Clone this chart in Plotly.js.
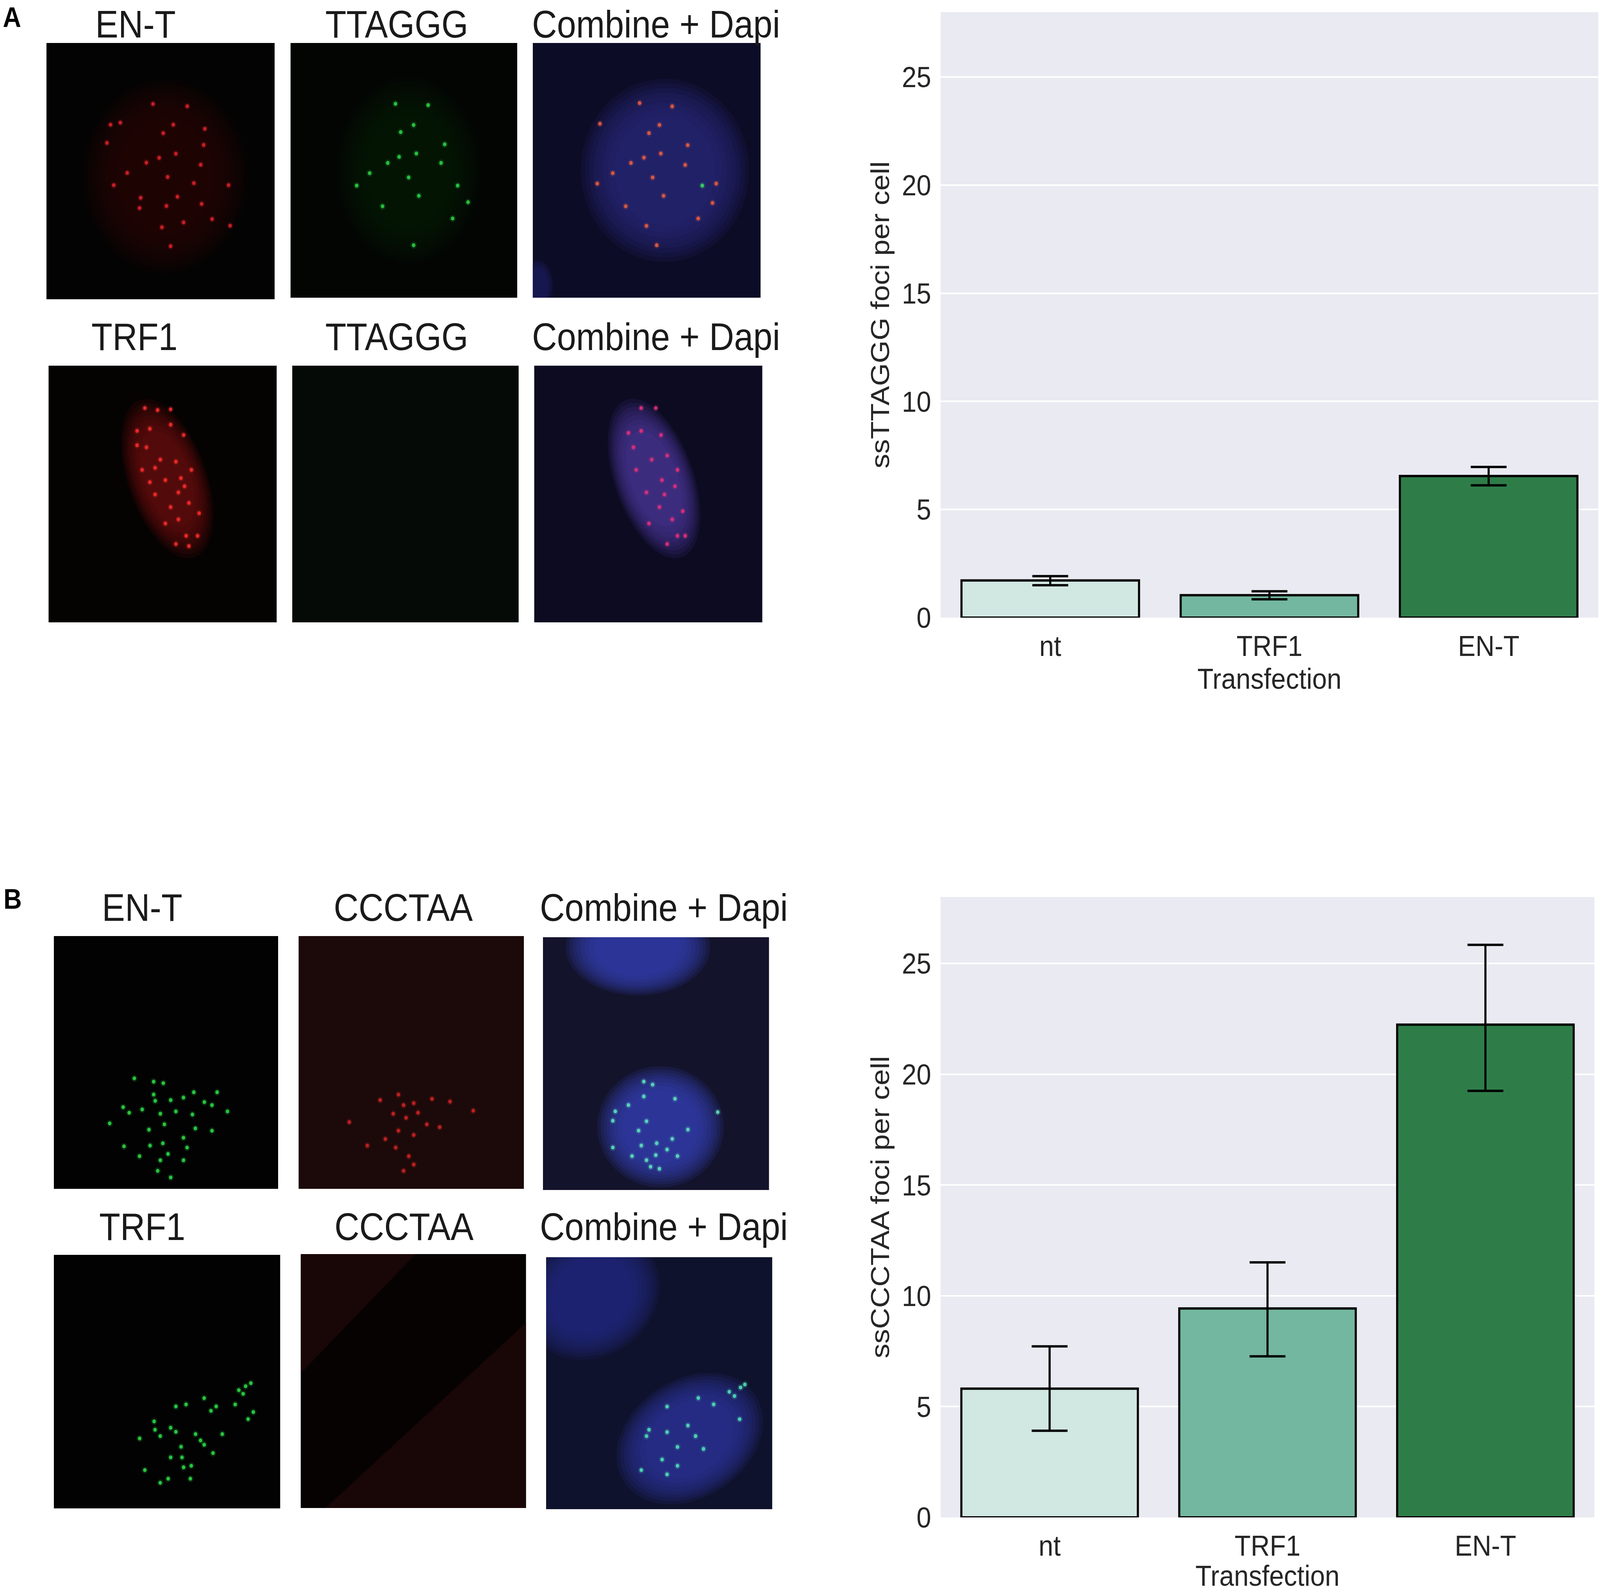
<!DOCTYPE html>
<html><head><meta charset="utf-8">
<script src="https://cdn.plot.ly/plotly-3.0.1.min.js"></script>
<style>
html,body{margin:0;padding:0;background:#fff;overflow:hidden}
#wrap{position:absolute;left:0;top:0;width:4550px;height:4075px;transform-origin:0 0}
</style>
</head><body><div id="wrap"><div id="chart" style="width:4550px;height:4075px"></div></div>
<script>
const W = 4550, H = 4075;
// fit the 4550x4075 figure into the actual viewport
(function () {
  const sx = Math.min(1, window.innerWidth / W), sy = Math.min(1, window.innerHeight / H);
  document.getElementById('wrap').style.transform = 'scale(' + sx + ',' + sy + ')';
})();

// ---------------- bar chart data ----------------
const categories = ['nt', 'TRF1', 'EN-T'];
const ssTTAGGG_mean = [1.72, 1.04, 6.55];
const ssTTAGGG_hi   = [1.92, 1.22, 6.97];
const ssTTAGGG_lo   = [1.50, 0.85, 6.12];
const ssCCCTAA_mean = [5.81, 9.43, 22.24];
const ssCCCTAA_hi   = [7.72, 11.51, 25.84];
const ssCCCTAA_lo   = [3.91, 7.27, 19.25];
const yTicks = [0, 5, 10, 15, 20, 25];
const barColors = ['#d1e7e2', '#73b7a0', '#2e7d49'];

// ---------------- panel titles ----------------
const titlesA1 = ['EN-T', 'TTAGGG', 'Combine + Dapi'];
const titlesA2 = ['TRF1', 'TTAGGG', 'Combine + Dapi'];
const titlesB1 = ['EN-T', 'CCCTAA', 'Combine + Dapi'];
const titlesB2 = ['TRF1', 'CCCTAA', 'Combine + Dapi'];

// ---------------- foci positions (fraction of panel, y from top) ----------------
const fociA_ENT = [[0.467,0.238],[0.617,0.247],[0.281,0.319],[0.324,0.311],[0.556,0.319],[0.512,0.352],[0.694,0.335],[0.265,0.390],[0.689,0.398],[0.567,0.432],[0.494,0.448],[0.438,0.467],[0.354,0.507],[0.531,0.523],[0.676,0.475],[0.646,0.547],[0.798,0.555],[0.295,0.555],[0.574,0.600],[0.413,0.604],[0.408,0.644],[0.526,0.636],[0.680,0.628],[0.726,0.687],[0.601,0.700],[0.805,0.713],[0.506,0.719],[0.544,0.793]];
const fociA_TTAGGG = [[0.463,0.239],[0.607,0.244],[0.543,0.322],[0.486,0.350],[0.680,0.398],[0.555,0.434],[0.479,0.447],[0.429,0.471],[0.664,0.471],[0.349,0.511],[0.521,0.528],[0.737,0.560],[0.566,0.600],[0.406,0.641],[0.783,0.625],[0.715,0.689],[0.543,0.794],[0.292,0.560]];
const fociA_comb = [[0.469,0.236],[0.612,0.249],[0.295,0.317],[0.556,0.322],[0.510,0.354],[0.680,0.401],[0.562,0.434],[0.488,0.450],[0.431,0.471],[0.351,0.511],[0.526,0.528],[0.669,0.479],[0.574,0.600],[0.408,0.641],[0.789,0.628],[0.726,0.689],[0.499,0.718],[0.544,0.794],[0.283,0.552],[0.805,0.552]];
const fociA_comb_green = [[0.744,0.560]];
const fociA_TRF1 = [[0.422,0.165],[0.478,0.173],[0.535,0.170],[0.388,0.254],[0.444,0.246],[0.535,0.230],[0.592,0.270],[0.388,0.310],[0.429,0.318],[0.490,0.366],[0.558,0.374],[0.626,0.406],[0.410,0.406],[0.467,0.398],[0.512,0.446],[0.580,0.438],[0.569,0.494],[0.467,0.502],[0.535,0.551],[0.615,0.535],[0.660,0.575],[0.569,0.599],[0.512,0.615],[0.603,0.663],[0.653,0.663],[0.558,0.695],[0.615,0.703],[0.444,0.454],[0.596,0.470]];
const fociA_TRF1_comb = [[0.469,0.165],[0.533,0.165],[0.413,0.262],[0.469,0.254],[0.556,0.270],[0.435,0.318],[0.515,0.366],[0.583,0.350],[0.628,0.406],[0.447,0.406],[0.560,0.446],[0.617,0.470],[0.492,0.494],[0.571,0.502],[0.549,0.551],[0.651,0.567],[0.605,0.599],[0.503,0.615],[0.628,0.663],[0.583,0.695],[0.662,0.663]];
const fociB_ENT = [[0.359,0.563],[0.445,0.576],[0.488,0.582],[0.445,0.627],[0.452,0.652],[0.521,0.649],[0.578,0.639],[0.624,0.618],[0.671,0.657],[0.728,0.618],[0.774,0.694],[0.309,0.677],[0.336,0.699],[0.394,0.686],[0.475,0.703],[0.544,0.694],[0.618,0.706],[0.705,0.669],[0.249,0.741],[0.424,0.766],[0.493,0.745],[0.631,0.761],[0.578,0.798],[0.429,0.829],[0.313,0.832],[0.486,0.820],[0.509,0.862],[0.475,0.887],[0.578,0.887],[0.463,0.929],[0.521,0.955],[0.594,0.837],[0.382,0.871],[0.705,0.770]];
const fociB_CCCTAA = [[0.443,0.627],[0.466,0.669],[0.362,0.649],[0.511,0.661],[0.592,0.644],[0.672,0.655],[0.775,0.691],[0.225,0.736],[0.420,0.703],[0.477,0.719],[0.530,0.699],[0.626,0.756],[0.443,0.770],[0.385,0.803],[0.511,0.787],[0.305,0.829],[0.431,0.837],[0.489,0.871],[0.511,0.904],[0.466,0.929],[0.569,0.745]];
const fociB_comb = [[0.446,0.571],[0.485,0.583],[0.446,0.630],[0.584,0.639],[0.378,0.664],[0.320,0.689],[0.773,0.692],[0.309,0.726],[0.458,0.728],[0.423,0.765],[0.572,0.798],[0.641,0.761],[0.309,0.832],[0.435,0.824],[0.503,0.815],[0.549,0.840],[0.499,0.862],[0.458,0.882],[0.476,0.908],[0.515,0.916],[0.394,0.866],[0.595,0.866]];
const fociB_TRF1 = [[0.870,0.506],[0.847,0.518],[0.817,0.534],[0.836,0.548],[0.801,0.590],[0.664,0.565],[0.584,0.590],[0.717,0.598],[0.694,0.615],[0.881,0.620],[0.539,0.598],[0.443,0.657],[0.516,0.682],[0.539,0.698],[0.626,0.707],[0.648,0.732],[0.664,0.749],[0.744,0.707],[0.858,0.648],[0.447,0.690],[0.470,0.715],[0.379,0.724],[0.562,0.757],[0.703,0.782],[0.516,0.799],[0.566,0.799],[0.607,0.832],[0.573,0.838],[0.402,0.849],[0.505,0.883],[0.470,0.899],[0.603,0.883]];
const fociB_TRF1_comb = [[0.879,0.505],[0.860,0.517],[0.810,0.534],[0.833,0.551],[0.673,0.559],[0.741,0.584],[0.856,0.643],[0.535,0.593],[0.627,0.668],[0.661,0.710],[0.535,0.694],[0.455,0.685],[0.581,0.753],[0.696,0.761],[0.444,0.710],[0.513,0.803],[0.581,0.828],[0.421,0.845],[0.535,0.862]];

// ---------------- panel layout (pixel boxes) & styling ----------------
function ellipsePath(cx, cy, a, b, deg) {
  const th = deg * Math.PI / 180, n = 48;
  let d = '';
  for (let i = 0; i <= n; i++) {
    const t = 2 * Math.PI * i / n;
    const x = cx + a * Math.cos(t) * Math.cos(th) - b * Math.sin(t) * Math.sin(th);
    const y = cy + a * Math.cos(t) * Math.sin(th) + b * Math.sin(t) * Math.cos(th);
    d += (i === 0 ? 'M' : 'L') + x.toFixed(4) + ',' + y.toFixed(4);
  }
  return d + 'Z';
}

const panels = [
  {box:[132,781,110,766], bg:'#040303', glows:[{c:[0.52,0.52],a:0.36,b:0.38,deg:0,color:'#3a0a0a',op:0.08}], foci:[{p:fociA_ENT,color:'#e0222a'}]},
  {box:[826,1471,110,762], bg:'#030503', glows:[{c:[0.52,0.50],a:0.32,b:0.37,deg:0,color:'#0f3a12',op:0.06}], foci:[{p:fociA_TTAGGG,color:'#2ed848'}]},
  {box:[1515,2163,110,762], bg:'#0d0c26', glows:[{c:[0.58,0.50],a:0.37,b:0.36,deg:0,color:'#30308e',op:0.13},{c:[0.02,0.95],a:0.07,b:0.1,deg:0,color:'#1e2468',op:0.12}], foci:[{p:fociA_comb,color:'#f0603c'},{p:fociA_comb_green,color:'#3ee060'}]},
  {box:[138,787,936,1593], bg:'#050202', glows:[{c:[0.52,0.44],a:0.33,b:0.17,deg:67,color:'#8a1212',op:0.11}], foci:[{p:fociA_TRF1,color:'#ff2e2e'}]},
  {box:[831,1475,936,1593], bg:'#060a07', glows:[], foci:[]},
  {box:[1519,2168,936,1593], bg:'#0c0b22', glows:[{c:[0.525,0.44],a:0.33,b:0.17,deg:67,color:'#5a44b8',op:0.12}], foci:[{p:fociA_TRF1_comb,color:'#e8307a'}]},
  {box:[153,791,2396,3043], bg:'#020202', glows:[], foci:[{p:fociB_ENT,color:'#2ee04a'}]},
  {box:[849,1490,2396,3043], bg:'#1c0909', glows:[], foci:[{p:fociB_CCCTAA,color:'#d42424'}]},
  {box:[1544,2187,2399,3046], bg:'#13132c', glows:[{c:[0.42,0.04],a:0.32,b:0.19,deg:0,color:'#3a48c4',op:0.14},{c:[0.52,0.75],a:0.28,b:0.24,deg:0,color:'#3c4ac8',op:0.14}], foci:[{p:fociB_comb,color:'#60e8c0'}]},
  {box:[153,797,3212,3861], bg:'#020202', glows:[], foci:[{p:fociB_TRF1,color:'#2ee04a'}]},
  {box:[855,1496,3210,3860], bg:'#060202', glows:[], polys:['M0,0L0.51,0L0,0.47Z','M0.11,1L1,0.27L1,1Z'], foci:[]},
  {box:[1553,2196,3218,3863], bg:'#0f122c', glows:[{c:[0.20,0.15],a:0.31,b:0.25,deg:-20,color:'#2a3090',op:0.13},{c:[0.635,0.72],a:0.34,b:0.24,deg:-25,color:'#3038ac',op:0.14}], foci:[{p:fociB_TRF1_comb,color:'#50e8b8'}]}
];

const titleAnn = [
  {texts:titlesA1, xs:[385,1128,1865], y:62},
  {texts:titlesA2, xs:[382,1128,1865], y:862},
  {texts:titlesB1, xs:[404,1147,1887], y:2323},
  {texts:titlesB2, xs:[404,1149,1887], y:3140}
];

// ---------------- build ----------------
const font = 'Liberation Sans, Arial, sans-serif';
const tickColor = '#262626';
const traces = [];
const layout = {
  width: W, height: H,
  margin: {l:0, r:0, t:0, b:0},
  paper_bgcolor: '#ffffff',
  plot_bgcolor: '#eaeaf2',
  showlegend: false,
  bargap: 0.19,
  font: {family: font, color: tickColor},
  shapes: [], annotations: []
};

function barTrace(mean, hi, lo, xa, ya) {
  return {
    type: 'bar', x: categories, y: mean, xaxis: xa, yaxis: ya,
    marker: {color: barColors, line: {color: '#000000', width: 6}},
    error_y: {type: 'data', symmetric: false,
      array: hi.map((v, i) => v - mean[i]),
      arrayminus: lo.map((v, i) => mean[i] - v),
      color: '#000000', thickness: 6, width: 51},
    hoverinfo: 'skip'
  };
}
traces.push(barTrace(ssTTAGGG_mean, ssTTAGGG_hi, ssTTAGGG_lo, 'x', 'y'));
traces.push(barTrace(ssCCCTAA_mean, ssCCCTAA_hi, ssCCCTAA_lo, 'x2', 'y2'));

function xAx(domain, anchor) {
  return {domain: domain, anchor: anchor, range: [-0.5, 2.5], showgrid: false, zeroline: false,
    ticks: '', showline: false, ticklabelstandoff: 22,
    tickfont: {size: 75, color: tickColor, family: font},
    title: {text: 'Transfection', font: {size: 75, color: tickColor, family: font}, standoff: 16}};
}
function yAx(domain, anchor, title) {
  return {domain: domain, anchor: anchor, range: [0, 28], tickvals: yTicks,
    showgrid: true, gridcolor: '#ffffff', gridwidth: 4, zeroline: false, ticks: '', showline: false,
    ticklabelstandoff: 26,
    tickfont: {size: 75, color: tickColor, family: font},
    title: {text: title, font: {size: 75, color: tickColor, family: font}, standoff: 10}};
}
layout.xaxis = xAx([2675 / W, 4545 / W], 'y');
layout.yaxis = yAx([1 - 1581 / H, 1 - 31 / H], 'x', 'ssTTAGGG foci per cell');
layout.xaxis2 = xAx([2675 / W, 4534 / W], 'y2');
layout.yaxis2 = yAx([1 - 3884 / H, 1 - 2296 / H], 'x2', 'ssCCCTAA foci per cell');

const glowScales = [1.0, 0.95, 0.9, 0.85, 0.8, 0.74, 0.68, 0.6];
panels.forEach((pn, i) => {
  const n = i + 3;
  const xa = 'x' + n, ya = 'y' + n;
  const [x0, x1, y0, y1] = pn.box;
  layout['xaxis' + n] = {domain: [x0 / W, x1 / W], anchor: ya, range: [0, 1], visible: false, fixedrange: true};
  layout['yaxis' + n] = {domain: [1 - y1 / H, 1 - y0 / H], anchor: xa, range: [1, 0], visible: false, fixedrange: true};
  layout.shapes.push({type: 'rect', xref: xa, yref: ya, x0: 0, x1: 1, y0: 0, y1: 1,
    fillcolor: pn.bg, line: {width: 0}, layer: 'below'});
  (pn.polys || []).forEach(p => {
    layout.shapes.push({type: 'path', xref: xa, yref: ya, path: p, fillcolor: '#2a0b0b', opacity: 0.55, line: {width: 0}, layer: 'below'});
  });
  pn.glows.forEach(g => {
    glowScales.forEach(s => {
      layout.shapes.push({type: 'path', xref: xa, yref: ya,
        path: ellipsePath(g.c[0], g.c[1], g.a * s, g.b * s, g.deg),
        fillcolor: g.color, opacity: g.op, line: {width: 0}, layer: 'below'});
    });
  });
  pn.foci.forEach(f => {
    const xs = f.p.map(d => d[0]), ys = f.p.map(d => d[1]);
    traces.push({type: 'scatter', mode: 'markers', x: xs, y: ys, xaxis: xa, yaxis: ya,
      marker: {size: 18, color: f.color, opacity: 0.16, line: {width: 0}}, hoverinfo: 'skip'});
    traces.push({type: 'scatter', mode: 'markers', x: xs, y: ys, xaxis: xa, yaxis: ya,
      marker: {size: 10, color: f.color, opacity: 0.85, line: {width: 0}}, hoverinfo: 'skip'});
  });
});

titleAnn.forEach(row => {
  row.texts.forEach((t, k) => {
    layout.annotations.push({text: t, xref: 'paper', yref: 'paper', x: row.xs[k] / W, y: 1 - row.y / H,
      xanchor: 'center', yanchor: 'middle', showarrow: false,
      font: {size: 98, color: '#1a1a1a', family: font}});
  });
});
layout.annotations.push({text: '<b>A</b>', xref: 'paper', yref: 'paper', x: 6 / W, y: 1 - 44 / H,
  xanchor: 'left', yanchor: 'middle', showarrow: false, font: {size: 72, color: '#000', family: font}});
layout.annotations.push({text: '<b>B</b>', xref: 'paper', yref: 'paper', x: 8 / W, y: 1 - 2301 / H,
  xanchor: 'left', yanchor: 'middle', showarrow: false, font: {size: 72, color: '#000', family: font}});

Plotly.newPlot('chart', traces, layout, {staticPlot: true, displayModeBar: false});
</script></body></html>
